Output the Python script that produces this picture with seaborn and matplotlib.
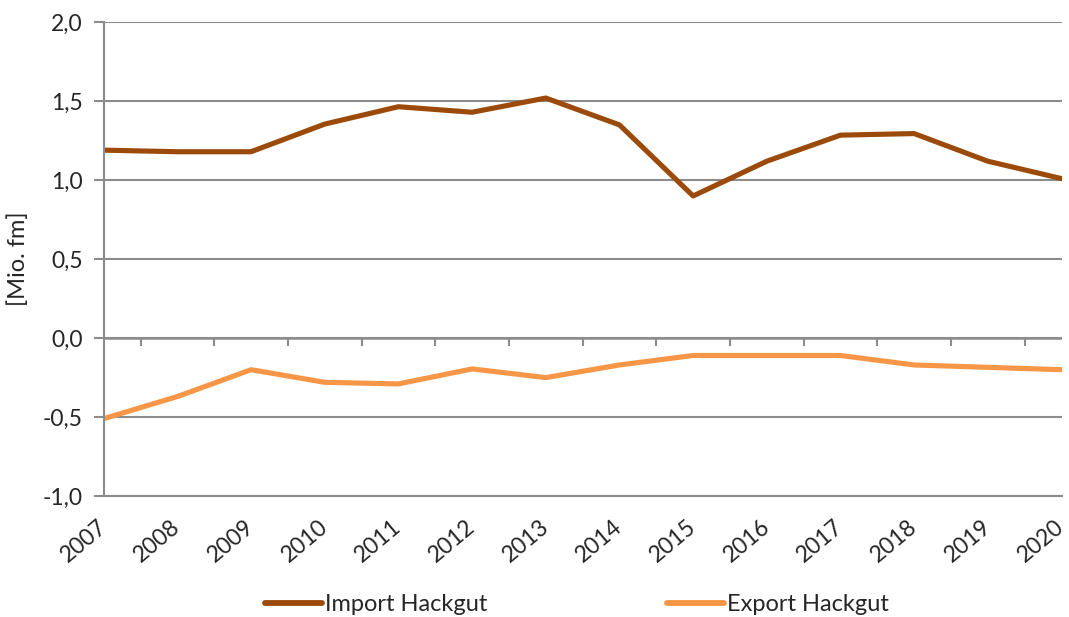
import seaborn as sns
import matplotlib.pyplot as plt
import matplotlib.ticker as mticker
import pandas as pd

years = list(range(2007, 2021))
import_hackgut = [1.19, 1.18, 1.18, 1.355, 1.465, 1.43, 1.52, 1.35, 0.90, 1.12, 1.285, 1.295, 1.12, 1.01]
export_hackgut = [-0.51, -0.37, -0.20, -0.28, -0.29, -0.195, -0.25, -0.17, -0.11, -0.11, -0.11, -0.17, -0.185, -0.20]

df = pd.DataFrame({
    'Jahr': years * 2,
    'Wert': import_hackgut + export_hackgut,
    'Serie': ['Import Hackgut'] * len(years) + ['Export Hackgut'] * len(years),
})

sns.set_style('white')
plt.rcParams['font.family'] = ['Lato', 'DejaVu Sans']

fig = plt.figure(figsize=(10.69, 6.17), dpi=100)
ax = fig.add_axes([0.097, 0.196, 0.896, 0.768])

grid_col = '#8c8c8c'
text_col = '#262626'
palette = {'Import Hackgut': '#9c4a0a', 'Export Hackgut': '#f79646'}

sns.lineplot(data=df, x='Jahr', y='Wert', hue='Serie', palette=palette,
             linewidth=3.7, ax=ax, legend=False)

ax.set_xlim(years[0], years[-1])
ax.set_ylim(-1.0, 2.0)
ax.yaxis.set_major_locator(mticker.MultipleLocator(0.5))
ax.yaxis.set_major_formatter(mticker.FuncFormatter(lambda v, p: f'{v:.1f}'.replace('.', ',')))
ax.grid(axis='y', color=grid_col, linewidth=1.5)
ax.set_axisbelow(True)
ax.axhline(0, color=grid_col, linewidth=1.8, zorder=1)

for s in ['top', 'right']:
    ax.spines[s].set_visible(False)
for s in ['left', 'bottom']:
    ax.spines[s].set_color(grid_col)
    ax.spines[s].set_linewidth(1.5)

ax.set_xticks(years)
ax.set_xticklabels([str(y) for y in years], rotation=40, ha='right', va='center',
                   rotation_mode='anchor', fontsize=16.5, color=text_col)
ax.tick_params(axis='x', length=0, pad=20)
ax.tick_params(axis='y', left=True, length=7, width=1.5, color=grid_col,
               labelsize=16.5, labelcolor=text_col, pad=8)
ax.set_xlabel('')
ax.set_ylabel('[Mio. fm]', fontsize=17, color=text_col, labelpad=10)

# tick marks between categories on the zero line
zero_frac = (0 - (-1.0)) / (2.0 - (-1.0))
sec = ax.secondary_xaxis(zero_frac)
sec.set_xticks([y + 0.5 for y in years[:-1]])
sec.xaxis.set_ticks_position('bottom')
sec.tick_params(length=6, width=1.5, color=grid_col, direction='out',
                labelbottom=False, labeltop=False)
sec.spines['bottom'].set_visible(False)
sec.spines['top'].set_visible(False)

handles = [plt.Line2D([], [], color=palette[k], linewidth=4.2, solid_capstyle='round') for k in palette]
fig.legend(handles, list(palette.keys()), loc='lower center', ncol=2, frameon=False,
           fontsize=17, handlelength=2.4, handletextpad=0.15, columnspacing=7.6,
           bbox_to_anchor=(0.54, -0.032))

fig.savefig('out.png', dpi=100)
